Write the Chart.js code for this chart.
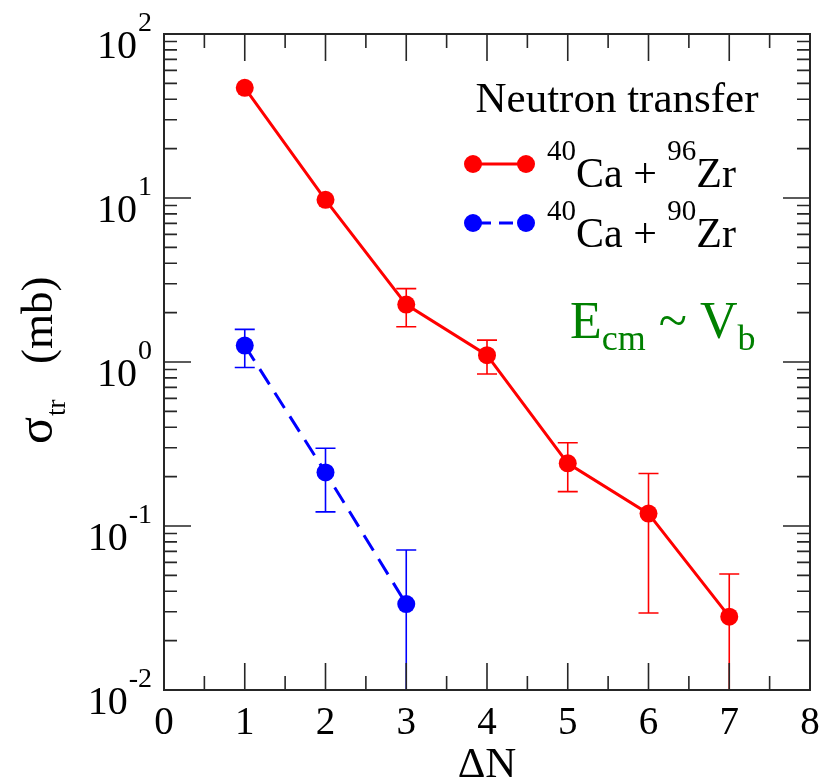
<!DOCTYPE html>
<html>
<head>
<meta charset="utf-8">
<script src="https://cdn.jsdelivr.net/npm/chart.js@4/dist/chart.umd.min.js"></script>
<style>
  html, body { margin: 0; padding: 0; background: #fff; }
  canvas { display: block; }
</style>
</head>
<body>
<canvas id="c" width="827" height="781"></canvas>
<script>
// ---------------- data ----------------
const deltaN96 = [1, 2, 3, 4, 5, 6, 7];
const sigma96 = [47, 9.75, 2.24, 1.10, 0.241, 0.119, 0.028];
const sigma96Hi = [null, null, 2.80, 1.36, 0.322, 0.209, 0.051];
const sigma96Lo = [null, null, 1.64, 0.845, 0.162, 0.0295, 0.005];

const deltaN90 = [1, 2, 3];
const sigma90 = [1.26, 0.212, 0.0334];
const sigma90Hi = [1.58, 0.298, 0.0714];
const sigma90Lo = [0.925, 0.122, 0.005];

const xTickLabels = ['0', '1', '2', '3', '4', '5', '6', '7', '8'];
const yTickExponents = ['-2', '-1', '0', '1', '2'];

const seriesNames = [
  { sup1: '40', base1: 'Ca', sup2: '96', base2: 'Zr' },
  { sup1: '40', base1: 'Ca', sup2: '90', base2: 'Zr' }
];
const legendTitle = 'Neutron transfer';

// ---------------- styling ----------------
const SERIF = '"Liberation Serif", "Times New Roman", Times, serif';
const RED = '#ff0000';
const BLUE = '#0000ff';
const GREEN = 'rgb(0,128,0)';
const FRAME = '#262626';

function pts(xs, ys) { return xs.map((x, i) => ({ x: x, y: ys[i] })); }

const decor = {
  id: 'decor',
  beforeDatasetsDraw(chart) {
    const ctx = chart.ctx, xs = chart.scales.x, ys = chart.scales.y, a = chart.chartArea;
    ctx.save();
    ctx.beginPath();
    ctx.rect(a.left, a.top, a.right - a.left, a.bottom - a.top);
    ctx.clip();
    const bars = [
      { x: deltaN96, hi: sigma96Hi, lo: sigma96Lo, color: RED },
      { x: deltaN90, hi: sigma90Hi, lo: sigma90Lo, color: BLUE }
    ];
    ctx.lineWidth = 1.6;
    bars.forEach(b => {
      ctx.strokeStyle = b.color;
      b.x.forEach((xv, i) => {
        if (b.hi[i] == null) return;
        const px = xs.getPixelForValue(xv);
        const pyH = ys.getPixelForValue(b.hi[i]);
        const pyL = ys.getPixelForValue(b.lo[i]);
        ctx.beginPath();
        ctx.moveTo(px, pyH); ctx.lineTo(px, pyL);
        ctx.moveTo(px - 10, pyH); ctx.lineTo(px + 10, pyH);
        ctx.moveTo(px - 10, pyL); ctx.lineTo(px + 10, pyL);
        ctx.stroke();
      });
    });
    ctx.restore();
  },
  afterDraw(chart) {
    const ctx = chart.ctx, xs = chart.scales.x, ys = chart.scales.y, a = chart.chartArea;
    ctx.save();
    // frame
    ctx.strokeStyle = FRAME;
    ctx.lineWidth = 2;
    ctx.strokeRect(a.left, a.top, a.right - a.left, a.bottom - a.top);
    // x ticks (bottom and top)
    ctx.lineWidth = 1.6;
    ctx.beginPath();
    for (let v = 0; v <= 8.001; v += 0.5) {
      const px = xs.getPixelForValue(v);
      const major = Math.abs(v - Math.round(v)) < 1e-6;
      const len = major ? 27 : 14;
      if (v > 0 && v < 8) {
        ctx.moveTo(px, a.bottom); ctx.lineTo(px, a.bottom - len);
        ctx.moveTo(px, a.top); ctx.lineTo(px, a.top + len);
      }
    }
    // y ticks (left and right)
    for (let e = -2; e <= 2; e++) {
      for (let m = 1; m <= 9; m++) {
        const v = m * Math.pow(10, e);
        if (v > 100 || (e === -2 && m === 1) || (e === 2 && m === 1)) continue;
        const py = ys.getPixelForValue(v);
        const len = m === 1 ? 27 : 13;
        ctx.moveTo(a.left, py); ctx.lineTo(a.left + len, py);
        ctx.moveTo(a.right, py); ctx.lineTo(a.right - len, py);
      }
    }
    ctx.stroke();

    ctx.fillStyle = '#000';
    // x tick labels
    ctx.font = '39px ' + SERIF;
    ctx.textAlign = 'center';
    ctx.textBaseline = 'alphabetic';
    xTickLabels.forEach(t => {
      ctx.fillText(t, xs.getPixelForValue(Number(t)), 734);
    });
    // x title
    ctx.font = '43px ' + SERIF;
    ctx.fillText('\u0394N', (a.left + a.right) / 2, 777);

    // y tick labels 10^e
    ctx.textAlign = 'left';
    yTickExponents.forEach(e => {
      const py = ys.getPixelForValue(Math.pow(10, Number(e)));
      ctx.font = '28px ' + SERIF;
      const ws = ctx.measureText(e).width;
      ctx.font = '40px ' + SERIF;
      const wb = ctx.measureText('10').width;
      const x0 = 151 - ws - wb;
      ctx.fillText('10', x0, py + 24);
      ctx.font = '28px ' + SERIF;
      ctx.fillText(e, x0 + wb + 1, py - 3);
    });

    // y title (rotated)
    ctx.save();
    ctx.translate(52, 444);
    ctx.rotate(-Math.PI / 2);
    ctx.font = '50px ' + SERIF;
    ctx.fillText('\u03C3', 0, 0);
    const wsig = ctx.measureText('\u03C3').width;
    ctx.font = '27px ' + SERIF;
    ctx.fillText('tr', wsig + 1, 13);
    ctx.font = '45px ' + SERIF;
    ctx.fillText('(mb)', 80, 0);
    ctx.restore();

    // legend
    ctx.font = '43px ' + SERIF;
    ctx.textAlign = 'center';
    ctx.fillText(legendTitle, 617, 112);
    ctx.textAlign = 'left';
    const rows = [
      { y: 164, base: 187, color: RED, dash: [] },
      { y: 223, base: 247, color: BLUE, dash: [14, 8] }
    ];
    rows.forEach((r, i) => {
      ctx.strokeStyle = r.color;
      ctx.fillStyle = r.color;
      ctx.lineWidth = 3;
      ctx.setLineDash(r.dash);
      ctx.lineDashOffset = r.dash.length ? -4 : 0;
      ctx.beginPath(); ctx.moveTo(473, r.y); ctx.lineTo(526, r.y); ctx.stroke();
      ctx.setLineDash([]);
      [473, 526].forEach(cx => { ctx.beginPath(); ctx.arc(cx, r.y, 9, 0, Math.PI * 2); ctx.fill(); });
      const n = seriesNames[i];
      ctx.fillStyle = '#000';
      let x = 547;
      ctx.font = '29px ' + SERIF; ctx.fillText(n.sup1, x, r.base - 27); x += ctx.measureText(n.sup1).width;
      ctx.font = '42px ' + SERIF; ctx.fillText(n.base1 + ' + ', x, r.base); x += ctx.measureText(n.base1 + ' + ').width;
      ctx.font = '29px ' + SERIF; ctx.fillText(n.sup2, x, r.base - 27); x += ctx.measureText(n.sup2).width;
      ctx.font = '42px ' + SERIF; ctx.fillText(n.base2, x, r.base);
    });

    // annotation E_cm ~ V_b
    ctx.fillStyle = GREEN;
    let x = 570;
    ctx.font = '52px ' + SERIF; ctx.fillText('E', x, 338); x += ctx.measureText('E').width;
    ctx.font = '36px ' + SERIF; ctx.fillText('cm', x, 350); x += ctx.measureText('cm').width;
    ctx.font = '52px ' + SERIF; ctx.fillText(' ~ ', x, 338); x += ctx.measureText(' ~ ').width;
    ctx.fillText('V', x, 338); x += ctx.measureText('V').width;
    ctx.font = '36px ' + SERIF; ctx.fillText('b', x, 350);
    ctx.restore();
  }
};

new Chart(document.getElementById('c'), {
  type: 'scatter',
  data: {
    datasets: [
      {
        label: '40Ca + 96Zr',
        data: pts(deltaN96, sigma96),
        showLine: true,
        borderColor: RED,
        backgroundColor: RED,
        borderWidth: 3,
        pointRadius: 9,
        pointBorderWidth: 0,
        pointBackgroundColor: RED
      },
      {
        label: '40Ca + 90Zr',
        data: pts(deltaN90, sigma90),
        showLine: true,
        borderColor: BLUE,
        backgroundColor: BLUE,
        borderWidth: 3,
        borderDash: [18, 10],
        pointRadius: 9,
        pointBorderWidth: 0,
        pointBackgroundColor: BLUE
      }
    ]
  },
  options: {
    responsive: false,
    animation: false,
    devicePixelRatio: 1,
    layout: { padding: { left: 164, right: 17, top: 34, bottom: 91 } },
    plugins: { legend: { display: false }, tooltip: { enabled: false } },
    scales: {
      x: { type: 'linear', min: 0, max: 8, display: false },
      y: { type: 'logarithmic', min: 0.01, max: 100, display: false }
    }
  },
  plugins: [decor]
});
</script>
</body>
</html>
